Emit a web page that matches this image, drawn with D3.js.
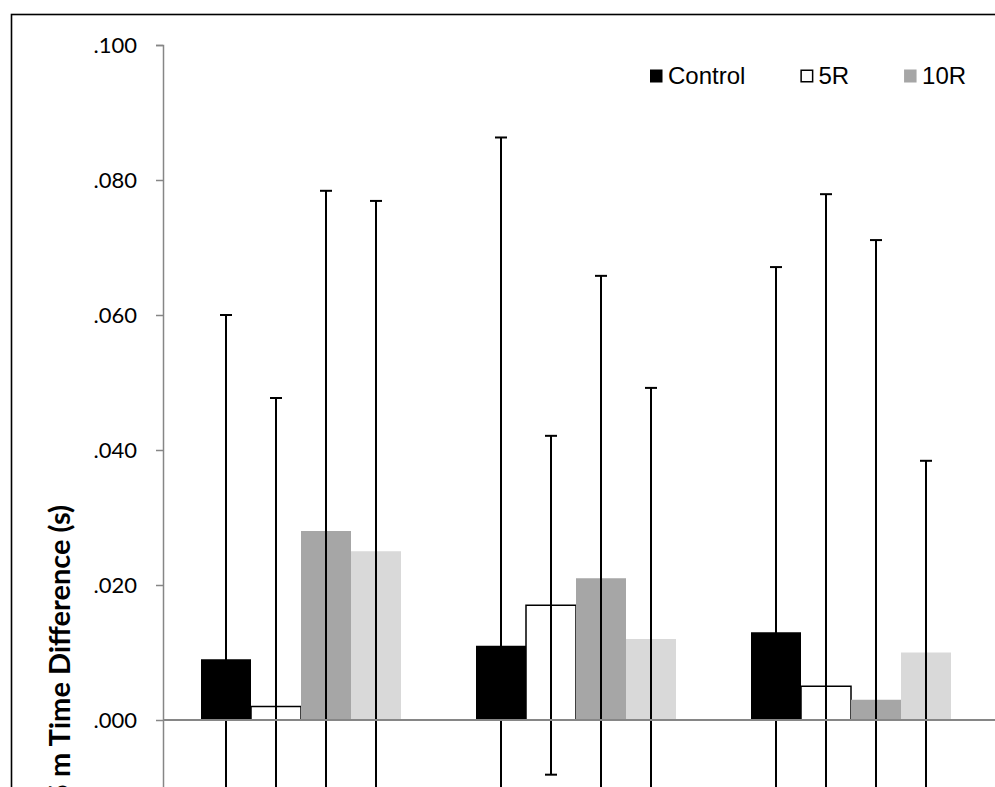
<!DOCTYPE html>
<html>
<head>
<meta charset="utf-8">
<script src="https://cdn.jsdelivr.net/npm/d3@7"></script>
<style>
	body { margin: 0; background: #fff; }
	#chart { width: 995px; height: 787px; }
	.tick text { font-family: Lato, 'Open Sans', sans-serif; font-size: 22px; fill: #000; }
	.legend text { font-family: 'Liberation Sans', Arial, sans-serif; font-size: 24px; fill: #000; }
	.y-label { font-family: Lato, 'Open Sans', sans-serif; font-size: 29px; font-weight: bold; }
</style>
</head>
<body>
<div id="chart"></div>
<script>
// data
const groups = ['Trial 1', 'Trial 2', 'Trial 3'];
const seriesNames = ['Control', '5R', '10R', '15R'];

const controlMeans = [0.009, 0.011, 0.013];
const r5Means = [0.002, 0.017, 0.005];
const r10Means = [0.028, 0.021, 0.003];
const r15Means = [0.025, 0.012, 0.010];

// error bar half-lengths (+/-)
const controlErr = [0.051, 0.0753, 0.0541];
const r5Err = [0.0457, 0.0251, 0.0729];
const r10Err = [0.0504, 0.0448, 0.0681];
const r15Err = [0.0519, 0.0372, 0.0284];

const yTicks = [-0.02, 0.0, 0.02, 0.04, 0.06, 0.08, 0.1];

class BarVis {
	constructor(parentElement) {
		this.parentElement = parentElement;
		this.colors = { Control: '#000000', '5R': '#ffffff', '10R': '#a6a6a6', '15R': '#d9d9d9' };
		this.initVis();
	}

	initVis() {
		let vis = this;

		vis.width = 995;
		vis.height = 787;
		vis.axisX = 163;

		vis.svg = d3.select('#' + vis.parentElement).append('svg').attr('width', vis.width).attr('height', vis.height);

		// chart frame (runs off the right and bottom edge)
		vis.svg
			.append('rect')
			.attr('x', 11.5)
			.attr('y', 14.5)
			.attr('width', 1200)
			.attr('height', 1200)
			.attr('fill', 'none')
			.attr('stroke', '#000')
			.attr('stroke-width', 1.6);

		vis.y = d3.scaleLinear().domain([-0.02, 0.1]).range([855, 45]);

		vis.x0 = d3
			.scaleBand()
			.domain(groups)
			.range([vis.axisX + 0.5, vis.axisX + 0.5 + 3 * 275])
			.paddingInner(3 / 11)
			.paddingOuter(1.5 / 11);

		vis.x1 = d3.scaleBand().domain(seriesNames).range([0, vis.x0.bandwidth()]);

		vis.wrangleData();
	}

	wrangleData() {
		let vis = this;

		let means = { Control: controlMeans, '5R': r5Means, '10R': r10Means, '15R': r15Means };
		let errs = { Control: controlErr, '5R': r5Err, '10R': r10Err, '15R': r15Err };

		vis.displayData = [];
		groups.forEach((g, i) => {
			seriesNames.forEach((s) => {
				vis.displayData.push({ group: g, series: s, mean: means[s][i], err: errs[s][i] });
			});
		});

		vis.updateVis();
	}

	updateVis() {
		let vis = this;

		// bars
		vis.svg
			.append('g')
			.selectAll('.bar')
			.data(vis.displayData)
			.enter()
			.append('rect')
			.attr('class', 'bar')
			.attr('x', (d) => vis.x0(d.group) + vis.x1(d.series))
			.attr('width', vis.x1.bandwidth())
			.attr('y', (d) => vis.y(d.mean))
			.attr('height', (d) => vis.y(0) - vis.y(d.mean))
			.attr('fill', (d) => vis.colors[d.series])
			.attr('stroke', (d) => (d.series === '5R' ? '#000' : 'none'))
			.attr('stroke-width', 1.5);

		// error bars
		let errG = vis.svg.append('g').attr('stroke', '#000').attr('stroke-width', 2);
		let cx = (d) => vis.x0(d.group) + vis.x1(d.series) + vis.x1.bandwidth() / 2;

		errG
			.selectAll('.err-line')
			.data(vis.displayData)
			.enter()
			.append('line')
			.attr('class', 'err-line')
			.attr('x1', cx)
			.attr('x2', cx)
			.attr('y1', (d) => vis.y(d.mean + d.err))
			.attr('y2', (d) => vis.y(d.mean - d.err));

		['upper', 'lower'].forEach((side) => {
			errG
				.selectAll('.cap-' + side)
				.data(vis.displayData)
				.enter()
				.append('line')
				.attr('class', 'cap-' + side)
				.attr('x1', (d) => cx(d) - 6)
				.attr('x2', (d) => cx(d) + 6)
				.attr('y1', (d) => vis.y(side === 'upper' ? d.mean + d.err : d.mean - d.err))
				.attr('y2', (d) => vis.y(side === 'upper' ? d.mean + d.err : d.mean - d.err));
		});

		// zero line
		vis.svg
			.append('line')
			.attr('x1', vis.axisX)
			.attr('x2', vis.width)
			.attr('y1', vis.y(0))
			.attr('y2', vis.y(0))
			.attr('stroke', '#868686')
			.attr('stroke-width', 2);

		// y axis
		let yAxis = d3
			.axisLeft(vis.y)
			.tickValues(yTicks)
			.tickSize(7)
			.tickPadding(19)
			.tickFormat((d) => d3.format('.3f')(d).replace('0.', '.'));

		let yG = vis.svg.append('g').attr('class', 'y-axis').attr('transform', `translate(${vis.axisX}, 0)`).call(yAxis);
		yG.selectAll('path, line').attr('stroke', '#868686').attr('stroke-width', 1.5);

		// y axis title
		vis.svg
			.append('text')
			.attr('class', 'y-label')
			.attr('transform', `translate(70, 505) rotate(-90)`)
			.attr('text-anchor', 'end')
			.text('0-5 m Time Difference (s)');

		vis.drawLegend();
	}

	drawLegend() {
		let vis = this;

		let legend = vis.svg.append('g').attr('class', 'legend');
		let xPos = 650;

		seriesNames.forEach((s) => {
			let item = legend.append('g').attr('transform', `translate(${xPos}, 0)`);
			item
				.append('rect')
				.attr('x', s === '5R' ? 0.75 : 0)
				.attr('y', s === '5R' ? 70.25 : 69.5)
				.attr('width', s === '5R' ? 11.5 : 12.5)
				.attr('height', s === '5R' ? 11.5 : 13)
				.attr('fill', vis.colors[s])
				.attr('stroke', s === '5R' ? '#000' : 'none')
				.attr('stroke-width', 1.5);
			let label = item.append('text').attr('x', 18).attr('y', 84).text(s);
			xPos += 18 + label.node().getComputedTextLength() + 55;
		});
	}
}

new BarVis('chart');
</script>
</body>
</html>
